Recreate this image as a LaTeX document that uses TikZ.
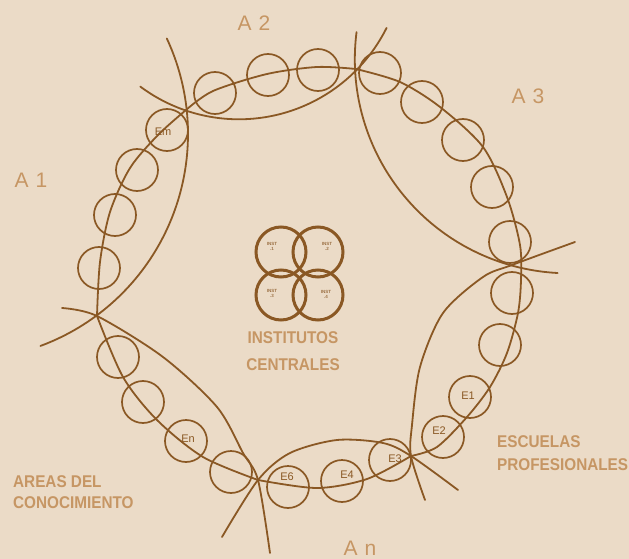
\documentclass[tikz,border=0pt]{standalone}
\usepackage{fontspec}
\setmainfont{Liberation Sans}
\usepackage{graphicx}
\definecolor{bg}{RGB}{235,219,199}
\definecolor{ln}{RGB}{138,88,36}
\definecolor{lbl}{RGB}{198,150,100}
\tikzset{
  curve/.style={draw=ln, line width=1.8pt, line cap=round},
  ring/.style={circle, draw=ln, line width=1.7pt, minimum size=42pt, inner sep=0pt},
  inst/.style={circle, draw=ln, line width=3pt, minimum size=50pt, inner sep=0pt},
  tag/.style={text=ln, font=\fontsize{11}{11}\selectfont, inner sep=0pt},
  itag/.style={text=ln!85, font=\bfseries\fontsize{4.5}{5}\selectfont, align=center, inner sep=0pt},
  area/.style={text=lbl, font=\fontsize{21}{21}\selectfont, inner sep=0pt},
  captxt/.style={text=lbl, font=\bfseries\fontsize{17}{17}\selectfont, inner sep=0pt},
}
\begin{document}
\begin{tikzpicture}[x=1pt,y=-1pt]
\fill[bg] (0,0) rectangle (629,559);
\useasboundingbox (0,0) rectangle (629,559);

\coordinate (V1) at (186,110);
\coordinate (V2) at (356,69);
\coordinate (V3) at (512,265);
\coordinate (V4) at (411,456);
\coordinate (V5) at (258,480);
\coordinate (V6) at (97,316);

% large arcs
\draw[curve] plot[domain=-25:69.7, samples=80] ({-38+226*cos(\x)},{134+226*sin(\x)});
\draw[curve] plot[domain=26.5:126.7, samples=80] ({238.9+165*cos(\x)},{-45.7+165*sin(\x)});
\draw[curve] plot[domain=93:187.3, samples=80] ({568.8+214*cos(\x)},{59.3+214*sin(\x)});
\draw[curve] plot[smooth] coordinates {(575,242) (V3) (483,277) (443,313) (420,367) (412,425) (V4) (425,500)};
\draw[curve] plot[smooth] coordinates {(458,490) (V4) (383,443) (337,440) (290,453) (V5) (222,537)};
\draw[curve] plot[smooth] coordinates {(62,308) (V6) (163,357) (217,407) (243,453) (V5) (270,553)};

% chain lines
\draw[curve] plot[smooth] coordinates {(V1) (158,135) (130,168) (110,212) (100,262) (V6)};
\draw[curve] plot[smooth] coordinates {(V1) (213,91) (267,74) (317,67) (V2)};
\draw[curve] plot[smooth] coordinates {(V2) (400,82) (440,107) (483,147) (507,197) (520,245) (521,280) (518,313) (507,353) (490,387) (467,417) (437,447) (V4)};
\draw[curve] plot[smooth] coordinates {(V4) (367,479) (317,488) (V5)};
\draw[curve] plot[smooth] coordinates {(V5) (203,457) (157,420) (123,377) (V6)};

% small circles
\node[ring] (cm) at (167,130) {};
\node[ring] (a12) at (137,170) {};
\node[ring] (a13) at (115,215) {};
\node[ring] (a14) at (99,268) {};
\node[ring] (a21) at (215,93) {};
\node[ring] (a22) at (268,75) {};
\node[ring] (a23) at (318,70) {};
\node[ring] (a31) at (380,73) {};
\node[ring] (a32) at (422,102) {};
\node[ring] (a33) at (463,140) {};
\node[ring] (a34) at (492,187) {};
\node[ring] (a35) at (510,242) {};
\node[ring] (r1) at (512,293) {};
\node[ring] (r2) at (500,345) {};
\node[ring] (ce1) at (470,397) {};
\node[ring] (ce2) at (443,437) {};
\node[ring] (ce3) at (390,460) {};
\node[ring] (ce4) at (342,481) {};
\node[ring] (ce6) at (288,487) {};
\node[ring] (b1) at (231,472) {};
\node[ring] (cen) at (186,441) {};
\node[ring] (b3) at (143,402) {};
\node[ring] (b4) at (118,357) {};

\node[tag] (tm) at (163,132) {Em};
\node[tag] (tn) at (188,439) {En};
\node[tag] (t1) at (468,396) {E1};
\node[tag] (t2) at (439,431) {E2};
\node[tag] (t3) at (395,459) {E3};
\node[tag] (t4) at (347,475) {E4};
\node[tag] (t6) at (287,477) {E6};

% central institutes
\node[inst] (i1) at (281,252) {};
\node[inst] (i2) at (318,252) {};
\node[inst] (i3) at (281,295) {};
\node[inst] (i4) at (318,295) {};
\node[itag] (it1) at (272,246) {INST\\.1};
\node[itag] (it2) at (327,246) {INST\\.2};
\node[itag] (it3) at (272,293) {INST\\.3};
\node[itag] (it4) at (326,294) {INST\\.4};
\node[captxt] (ic1) at (293,338) {\scalebox{0.9}[1]{INSTITUTOS}};
\node[captxt] (ic2) at (293,365) {\scalebox{0.9}[1]{CENTRALES}};

% area labels
\node[area] (la1) at (31,180) {A\hspace{7pt}1};
\node[area] (la2) at (254,23) {A\hspace{7pt}2};
\node[area] (la3) at (528,96) {A\hspace{7pt}3};
\node[area] (lan) at (360,548) {A\hspace{7pt}n};

\node[captxt, anchor=west] (e1) at (497,442) {\scalebox{0.9}[1]{ESCUELAS}};
\node[captxt, anchor=west] (e2) at (497,465) {\scalebox{0.9}[1]{PROFESIONALES}};
\node[captxt, anchor=west] (c1) at (13,482) {\scalebox{0.9}[1]{AREAS DEL}};
\node[captxt, anchor=west] (c2) at (13,503) {\scalebox{0.9}[1]{CONOCIMIENTO}};
\end{tikzpicture}
\end{document}
